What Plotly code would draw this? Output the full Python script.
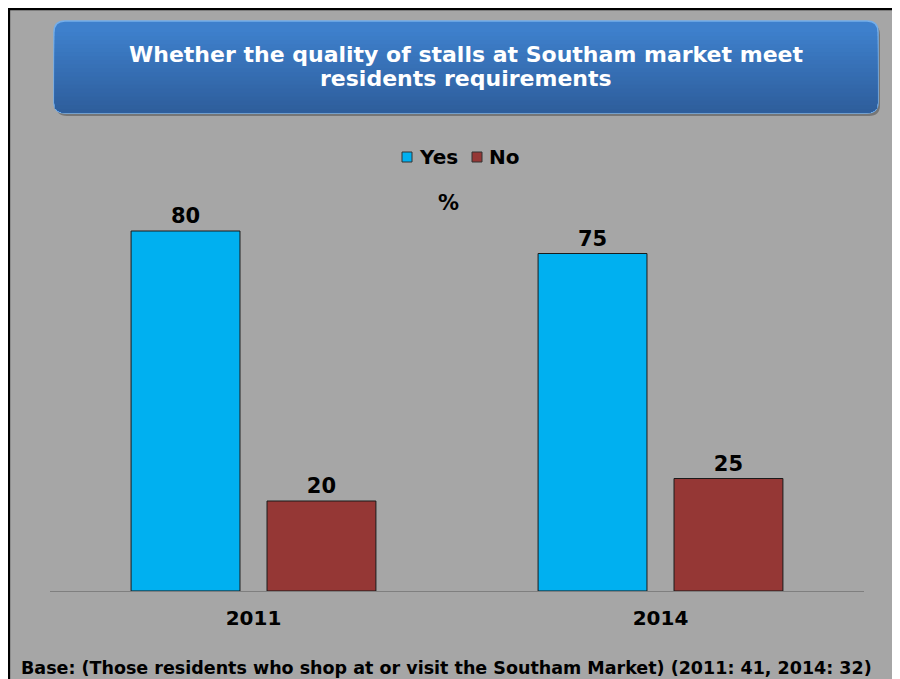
import plotly.graph_objects as go

# ---- data ----
years = ["2011", "2014"]
yes_values = [80, 75]
no_values = [20, 25]
series_names = ["Yes", "No"]
series_colors = ["#00B0F0", "#953735"]
title_lines = ["Whether the quality of stalls at Southam market meet", "residents requirements"]
unit_text = "%"
base_text = "Base: (Those residents who shop at or visit the Southam Market) (2011: 41, 2014: 32)"

W, H = 900, 679
OFF = 8  # page body margin offset of reference
FONT = "DejaVu Sans"


def px(x):
    return (x - OFF) / W


def py(y):
    return 1 - (y - OFF) / H


def rounded_path(x0, y0, x1, y1, r, top=True, bottom=True):
    rx, ry = r / W, r / H
    X0, X1 = px(x0), px(x1)
    Y0, Y1 = py(y0), py(y1)
    parts = []
    if top:
        parts.append(f"M {X0+rx},{Y0} L {X1-rx},{Y0} Q {X1},{Y0} {X1},{Y0-ry}")
    else:
        parts.append(f"M {X0},{Y0} L {X1},{Y0}")
    if bottom:
        parts.append(f"L {X1},{Y1+ry} Q {X1},{Y1} {X1-rx},{Y1} L {X0+rx},{Y1} Q {X0},{Y1} {X0},{Y1+ry}")
    else:
        parts.append(f"L {X1},{Y1} L {X0},{Y1}")
    if top:
        parts.append(f"L {X0},{Y0-ry} Q {X0},{Y0} {X0+rx},{Y0} Z")
    else:
        parts.append(f"L {X0},{Y0} Z")
    return " ".join(parts)


def lerp_color(c1, c2, t):
    a = [int(c1[i:i+2], 16) for i in (1, 3, 5)]
    b = [int(c2[i:i+2], 16) for i in (1, 3, 5)]
    return "rgb({},{},{})".format(*[round(a[k] + (b[k] - a[k]) * t) for k in range(3)])


fig = go.Figure()
for name, vals, col in zip(series_names, [yes_values, no_values], series_colors):
    fig.add_trace(go.Bar(
        name=name, x=years, y=vals,
        marker=dict(color=col, line=dict(color="#1a1a1a", width=1)),
        text=vals, textposition="outside", cliponaxis=False,
        textfont=dict(family=FONT, size=21, color="black", weight="bold"),
        showlegend=False,
    ))

shapes = []
# black border on the figure edge
shapes.append(dict(type="rect", xref="paper", yref="paper", layer="below",
                   x0=0.001, x1=1.2, y0=-0.2, y1=0.9985,
                   fillcolor="rgba(0,0,0,0)", line=dict(color="black", width=2.5)))

# title box: shadow, base, gradient strips
bx0, by0, bx1, by1, r = 54, 21, 878, 113, 11
shapes.append(dict(type="path", xref="paper", yref="paper", layer="below",
                   path=rounded_path(bx0 + 2, by0 + 3, bx1 + 2, by1 + 3, r),
                   fillcolor="rgba(60,60,60,0.45)", line=dict(width=0)))
top_c, bot_c = "#3E80CC", "#2E5E9C"
shapes.append(dict(type="path", xref="paper", yref="paper", layer="below",
                   path=rounded_path(bx0, by0, bx1, by1, r),
                   fillcolor=top_c, line=dict(color="#74AEEA", width=1.5)))
start = by0 + r
n = 20
for i in range(n):
    ys = start + (by1 - start) * i / n
    shapes.append(dict(type="path", xref="paper", yref="paper", layer="below",
                       path=rounded_path(bx0 + 0.8, ys, bx1 - 0.8, by1 - 0.5, r - 1, top=False),
                       fillcolor=lerp_color(top_c, bot_c, (i + 1) / n), line=dict(width=0)))

# manual legend (squares + names)
legend_sq_x = [402, 472]
legend_tx_x = [417, 487]
for name, col, sx, tx in zip(series_names, series_colors, legend_sq_x, legend_tx_x):
    shapes.append(dict(type="rect", xref="paper", yref="paper",
                       x0=px(sx), x1=px(sx + 10), y0=py(152), y1=py(162),
                       fillcolor=col, line=dict(color="#333333", width=1)))

annotations = []
for name, tx in zip(series_names, legend_tx_x):
    annotations.append(dict(text=f"<b>{name}</b>", x=px(tx), y=py(157), xref="paper", yref="paper",
                            showarrow=False, xanchor="left", yanchor="middle",
                            font=dict(family=FONT, size=20, color="black")))
for line, yy in zip(title_lines, [55, 79]):
    annotations.append(dict(text=f"<b>{line}</b>", x=px(466), y=py(yy), xref="paper", yref="paper",
                            showarrow=False, xanchor="center", yanchor="middle",
                            font=dict(family=FONT, size=22, color="white")))
annotations += [
    dict(text=f"<b>{unit_text}</b>", x=px(448), y=py(203), xref="paper", yref="paper",
         showarrow=False, xanchor="center", yanchor="middle",
         font=dict(family=FONT, size=21, color="black")),
    dict(text=f"<b>{base_text}</b>", x=px(19), y=py(668), xref="paper", yref="paper",
         showarrow=False, xanchor="left", yanchor="middle",
         font=dict(family=FONT, size=17.5, color="black")),
]

fig.update_layout(
    width=W, height=H,
    margin=dict(l=0, r=0, t=0, b=0),
    paper_bgcolor="#A6A6A6", plot_bgcolor="rgba(0,0,0,0)",
    barmode="group", bargap=0.332, bargroupgap=0.199,
    showlegend=False,
    xaxis=dict(domain=[px(50), px(864)], range=[-0.5, 1.5], showline=True,
               linecolor="#7F7F7F", linewidth=1, ticks="", showgrid=False, zeroline=False,
               tickfont=dict(family=FONT, size=20, color="black", weight="bold"),
               ticklabelstandoff=9),
    yaxis=dict(domain=[py(591), py(141)], range=[0, 100], visible=False, showgrid=False),
    shapes=shapes,
    annotations=annotations,
)

fig.write_html("out.html")
